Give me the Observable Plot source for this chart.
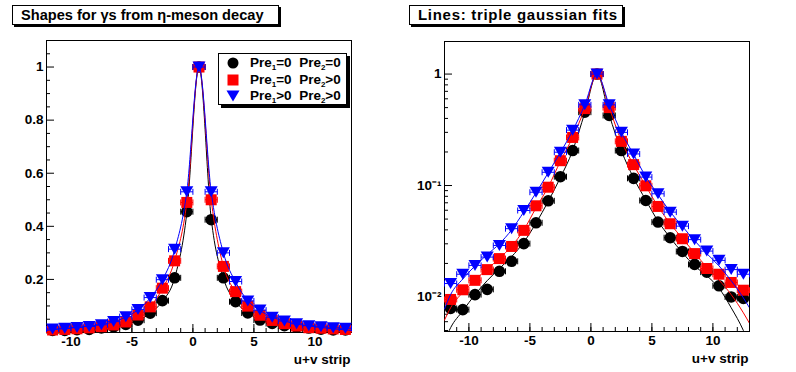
<!DOCTYPE html>
<html><head><meta charset="utf-8">
<script src="https://cdn.jsdelivr.net/npm/d3@7"></script>
<script src="https://cdn.jsdelivr.net/npm/@observablehq/plot@0.6"></script>
<style>
body{margin:0;background:#fff;}
#fig{position:relative;width:796px;height:372px;overflow:hidden;font-family:"Liberation Sans",Arial,sans-serif;font-weight:bold;color:#000;}
.panel{position:absolute;top:0;}
.title{position:absolute;border:1px solid #000;box-shadow:2px 2px 0 #000;background:#fff;white-space:nowrap;box-sizing:border-box;}
.legend{position:absolute;left:218px;top:53px;width:129px;height:52px;border:1px solid #000;box-shadow:3px 3px 0 #000;background:#fff;box-sizing:border-box;font-size:13.5px;}
.legend .row{position:absolute;left:0;height:17px;width:127px;}
.legend svg{position:absolute;left:6px;top:0;}
.legend span{position:absolute;left:31px;top:0;line-height:15px;white-space:nowrap;}
.legend sub{font-size:8px;vertical-align:-3px;line-height:0;}
</style></head><body><div id="fig"></div>
<script>
// ---- data ----
const strips = [-11.5,-10.5,-9.5,-8.5,-7.5,-6.5,-5.5,-4.5,-3.5,-2.5,-1.5,-0.5,0.5,1.5,2.5,3.5,4.5,5.5,6.5,7.5,8.5,9.5,10.5,11.5,12.5];
const pre00 = [0.0079,0.0077,0.0105,0.0117,0.0170,0.0209,0.0301,0.0463,0.0729,0.120,0.206,0.455,1.0,0.425,0.206,0.116,0.0734,0.047,0.034,0.0256,0.0196,0.0167,0.0126,0.0100,0.0097];
const pre0p = [0.0095,0.0116,0.0141,0.0176,0.0221,0.0284,0.0396,0.0658,0.0966,0.167,0.270,0.490,1.0,0.500,0.249,0.154,0.0994,0.0649,0.0454,0.0333,0.0245,0.0180,0.0160,0.0135,0.0115];
const prepp = [0.0132,0.0160,0.0192,0.0228,0.029,0.041,0.0597,0.0871,0.1315,0.199,0.314,0.530,1.0,0.530,0.300,0.192,0.119,0.0843,0.0577,0.0432,0.0327,0.0258,0.0213,0.0176,0.0160];
// triple gaussian fit curves
const fitX   = [-12,-11.5,-10.5,-9.5,-8.5,-7.5,-6.5,-5.5,-4.5,-3.5,-2.5,-1.5,-0.5,0.5,1.5,2.5,3.5,4.5,5.5,6.5,7.5,8.5,9.5,10.5,11.5,12.5,13];
const fit00  = [0.0040,0.0053,0.0075,0.0105,0.0140,0.0180,0.0230,0.031,0.046,0.072,0.118,0.205,0.45,1.0,0.43,0.205,0.117,0.074,0.048,0.034,0.025,0.019,0.0155,0.0120,0.0080,0.0050,0.0037];
const fit0p  = [0.0062,0.0080,0.0110,0.0142,0.0178,0.0222,0.0285,0.040,0.063,0.097,0.165,0.27,0.49,1.0,0.50,0.25,0.153,0.099,0.065,0.0455,0.0335,0.0248,0.0185,0.0142,0.0105,0.0072,0.0058];
const fitpp  = [0.0078,0.0105,0.0145,0.019,0.024,0.030,0.040,0.058,0.086,0.130,0.198,0.31,0.53,1.0,0.53,0.30,0.190,0.120,0.083,0.058,0.043,0.032,0.0245,0.019,0.0140,0.0098,0.0080];
const seriesNames  = ["Pre1=0 Pre2=0","Pre1=0 Pre2>0","Pre1>0 Pre2>0"];
const seriesColors = ["#000000","#ff0000","#0000ff"];
// ticks
const xMajor = [-10,-5,0,5,10];
const xMinor = [-12,-11,-10,-9,-8,-7,-6,-5,-4,-3,-2,-1,0,1,2,3,4,5,6,7,8,9,10,11,12,13];
const linMajor = [0.2,0.4,0.6,0.8,1];
const linMajorLabels = ["0.2","0.4","0.6","0.8","1"];
const linMinor = [0.05,0.1,0.15,0.25,0.3,0.35,0.45,0.5,0.55,0.65,0.7,0.75,0.85,0.9,0.95,1.05];
const logMajor = [0.01,0.1,1];
const logMajorLabels = ["10\u207B\u00B2","10\u207B\u00B9","1"];
const logMinor = [0.005,0.006,0.007,0.008,0.009,0.02,0.03,0.04,0.05,0.06,0.07,0.08,0.09,0.2,0.3,0.4,0.5,0.6,0.7,0.8,0.9];
const xTitle = "u+v strip";

// ---- tables ----
const values = [pre00, pre0p, prepp];
const fits = [fit00, fit0p, fitpp];
const points = values.map((vals, s) => strips.map((x, i) => ({series: s, x, y: vals[i]})));
const curves = fits.map((vals, s) => fitX.map((x, i) => ({series: s, x, y: vals[i]})));

// ---- marker symbols ----
const sqSym = {draw(c){ c.moveTo(-5.5,-5.5); c.lineTo(5.5,-5.5); c.lineTo(5.5,5.5); c.lineTo(-5.5,5.5); c.closePath(); }};
const triSym = {draw(c){ c.moveTo(-6.5,-5.5); c.lineTo(6.5,-5.5); c.lineTo(0,5.5); c.closePath(); }};
const circSym = {draw(c){ c.moveTo(5.8,0); c.arc(0,0,5.8,0,2*Math.PI); }};
const capSym = {draw(c){ c.moveTo(0,-3); c.lineTo(0,3); }};
const symbols = [circSym, sqSym, triSym];

function panel({log}) {
  const marks = [
    Plot.frame({stroke: "#000", strokeWidth: 1}),
    Plot.axisX(xMinor, {anchor: "bottom", tickSize: -4, tickFormat: () => "", label: null}),
    Plot.axisX(xMajor, {anchor: "bottom", tickSize: -8, tickPadding: 12, tickFormat: d => String(d), label: null, fontSize: 13.5, fontWeight: "bold"}),
    Plot.axisY(log ? logMinor : linMinor, {anchor: "left", tickSize: -4, tickFormat: () => "", label: null}),
    Plot.axisY(log ? logMajor : linMajor, {anchor: "left", tickSize: -8, tickPadding: 11,
      tickFormat: d => { const t = log ? logMajor : linMajor, l = log ? logMajorLabels : linMajorLabels; return l[t.indexOf(d)]; },
      label: null, fontSize: 13.5, fontWeight: "bold"}),
    Plot.text([xTitle], {frameAnchor: "bottom-right", text: d => d, textAnchor: "end", lineAnchor: "middle", dy: 27, dx: -1, fontSize: 13.5, fontWeight: "bold"})
  ];
  for (let s = 0; s < 3; s++) {
    const col = seriesColors[s];
    marks.push(
      Plot.link(points[s], {x1: d => d.x - 0.5, x2: d => d.x + 0.5, y1: "y", y2: "y", stroke: col, strokeWidth: 1}),
      Plot.dot(points[s], {x: d => d.x - 0.5, y: "y", symbol: capSym, stroke: col, fill: "none", strokeWidth: 1}),
      Plot.dot(points[s], {x: d => d.x + 0.5, y: "y", symbol: capSym, stroke: col, fill: "none", strokeWidth: 1}),
      Plot.dot(points[s], {x: "x", y: "y", symbol: symbols[s], fill: col, stroke: "none"}),
      Plot.line(curves[s], {x: "x", y: "y", stroke: col, strokeWidth: 1, curve: "monotone-x", clip: true})
    );
  }
  return Plot.plot({
    width: 398, height: 372,
    marginLeft: 46, marginRight: 47, marginTop: log ? 41 : 40, marginBottom: log ? 41 : 40,
    style: {fontFamily: '"Liberation Sans", Arial, sans-serif', fontWeight: "bold", fontSize: "13px", color: "#000", background: "transparent", overflow: "visible"},
    x: {domain: [-12, 13], label: null},
    y: log ? {type: "log", domain: [0.0049, 1.96], label: null} : {type: "linear", domain: [0, 1.1], label: null},
    marks
  });
}

const fig = document.getElementById("fig");
const p1 = panel({log: false}); p1.classList.add("panel"); p1.style.left = "0px"; p1.style.position = "absolute"; fig.appendChild(p1);
const p2 = panel({log: true}); p2.classList.add("panel"); p2.style.left = "398px"; p2.style.position = "absolute"; fig.appendChild(p2);

function addTitle(html, left, width, fs, ls) {
  const t = document.createElement("div");
  t.className = "title";
  t.style.left = left + "px"; t.style.top = "5px"; t.style.width = width + "px"; t.style.height = "20px";
  t.style.fontSize = fs + "px"; t.style.lineHeight = "18px"; t.style.paddingLeft = "8px"; t.style.letterSpacing = ls + "px";
  t.innerHTML = html;
  fig.appendChild(t);
}
addTitle("Shapes for \u03B3s from \u03B7-meson decay", 12, 267, 14.6, 0);
addTitle("Lines: triple gaussian fits", 409, 214, 15, 0.7);

// legend
const leg = document.createElement("div");
leg.className = "legend";
const legTexts = ["Pre<sub>1</sub>=0&nbsp; Pre<sub>2</sub>=0","Pre<sub>1</sub>=0&nbsp; Pre<sub>2</sub>&gt;0","Pre<sub>1</sub>&gt;0&nbsp; Pre<sub>2</sub>&gt;0"];
const legShapes = [
  '<circle cx="8" cy="8" r="5.5"/>',
  '<rect x="2.5" y="2.5" width="11" height="11"/>',
  '<path d="M1.5,2.5 L14.5,2.5 L8,13.5 Z"/>'
];
for (let s = 0; s < 3; s++) {
  const row = document.createElement("div");
  row.className = "row";
  row.style.top = (1 + s * 16.5) + "px";
  row.innerHTML = `<svg width="16" height="16" viewBox="0 0 16 16"><g fill="${seriesColors[s]}">${legShapes[s]}</g></svg><span>${legTexts[s]}</span>`;
  leg.appendChild(row);
}
fig.appendChild(leg);
</script></body></html>
